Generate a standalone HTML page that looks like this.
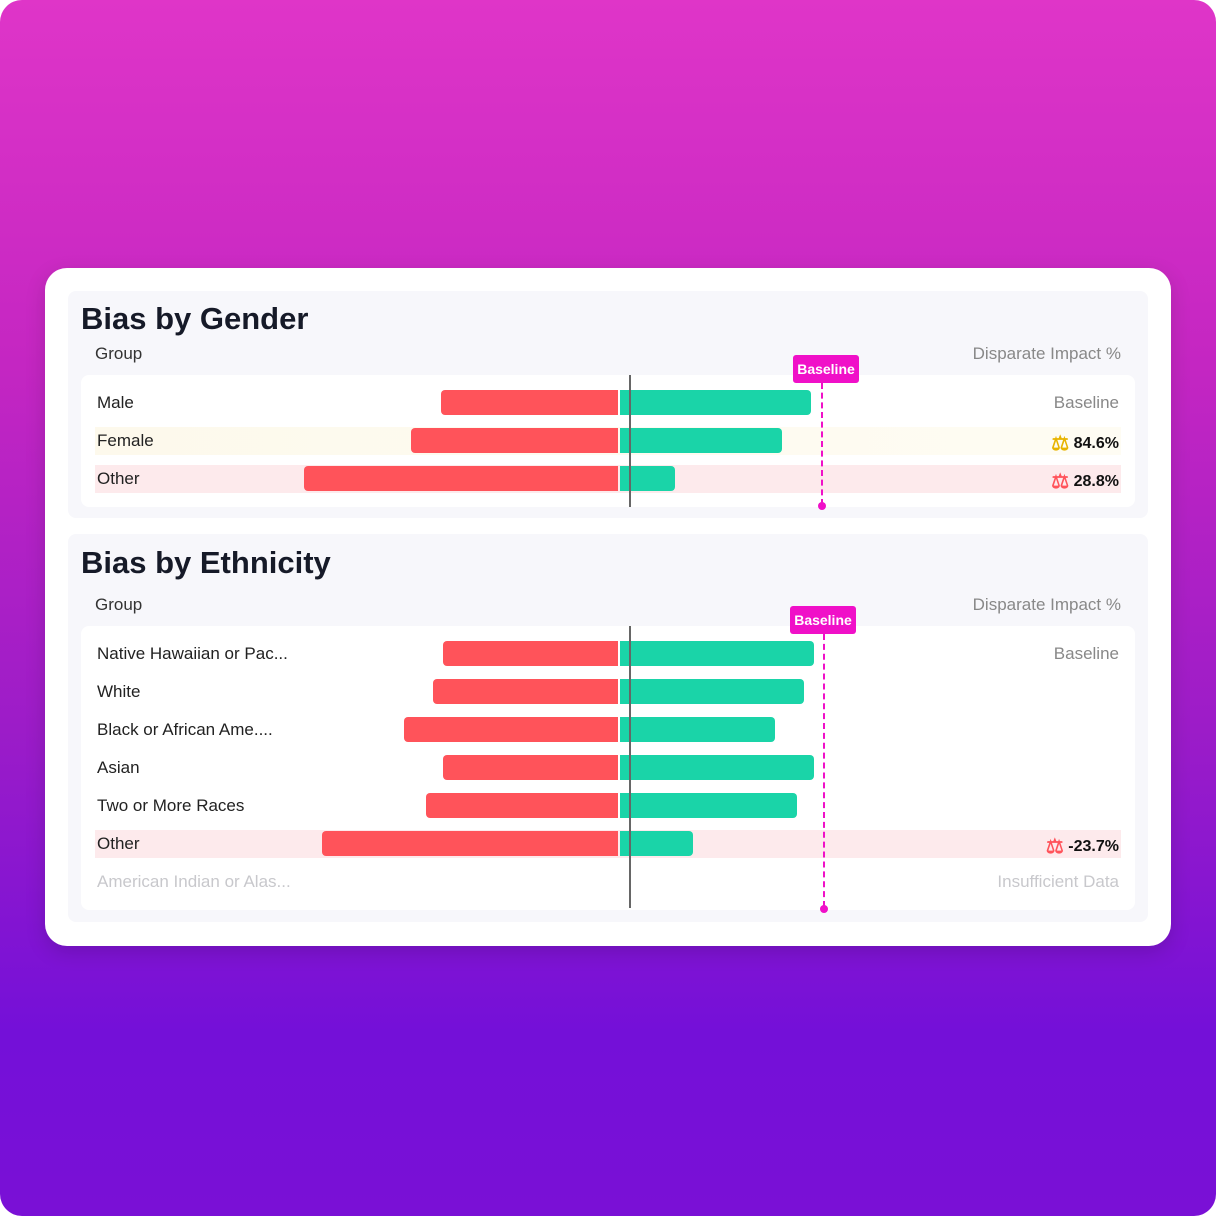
<!DOCTYPE html>
<html><head><style>
html{background:#fff}
body{margin:0;width:1216px;height:1216px;overflow:hidden;font-family:"Liberation Sans",sans-serif;border-radius:22px;
background:linear-gradient(180deg,#df35c8 0%,#c426c2 30%,#9c1cc8 60%,#7410d8 85%,#7a10d6 100%);position:relative}
.abs{position:absolute}
.card{left:45px;top:268px;width:1126px;height:678px;background:#fff;border-radius:22px;box-shadow:0 6px 20px rgba(0,0,0,.15)}
.panel{background:#f7f7fb;border-radius:8px}
.inner{background:#fff;border-radius:8px}
.title{font-weight:bold;font-size:31px;color:#161a28;letter-spacing:0px}
.lbl{font-size:17px;color:#222}
.hdr{font-size:17px;color:#333}
.muted{font-size:17px;color:#888}
.red{background:#ff535a;border-radius:4px 0 0 4px;height:25px}
.grn{background:#1ad4a8;border-radius:0 4px 4px 0;height:25px}
.axis{width:2px;background:#666}
.bl{border-left:2px dashed #f010c8;width:0}
.dot{width:8px;height:8px;border-radius:50%;background:#f010c8}
.tag{background:#f010c8;color:#fff;font-weight:bold;font-size:14px;border-radius:3px;text-align:center;line-height:28px}
.val{font-size:16px;font-weight:bold;color:#111;text-align:right}
.val span{font-size:20px;vertical-align:-2px}
</style></head><body>
<div class="abs card"></div>
<div class="abs panel" style="left:68px;top:291px;width:1080px;height:227px"></div>
<div class="abs title" style="left:81px;top:301px">Bias by Gender</div>
<div class="abs hdr" style="left:95px;top:344px">Group</div>
<div class="abs muted" style="right:95px;top:344px">Disparate Impact %</div>
<div class="abs inner" style="left:81px;top:375px;width:1054px;height:132px"></div>
<div class="abs" style="left:95px;top:427px;width:1026px;height:28px;background:linear-gradient(90deg,#fdf9ec,#fefcf3)"></div>
<div class="abs" style="left:95px;top:465px;width:1026px;height:28px;background:#fdeaec"></div>
<div class="abs lbl" style="left:97px;top:393px">Male</div>
<div class="abs lbl" style="left:97px;top:431px">Female</div>
<div class="abs lbl" style="left:97px;top:469px">Other</div>
<div class="abs red" style="left:441px;top:390px;width:177px"></div><div class="abs grn" style="left:620px;top:390px;width:191px"></div>
<div class="abs red" style="left:411px;top:428px;width:207px"></div><div class="abs grn" style="left:620px;top:428px;width:162px"></div>
<div class="abs red" style="left:304px;top:466px;width:314px"></div><div class="abs grn" style="left:620px;top:466px;width:55px"></div>
<div class="abs axis" style="left:629px;top:375px;height:132px"></div>
<div class="abs bl" style="left:821px;top:383px;height:122px"></div>
<div class="abs dot" style="left:818px;top:502px"></div>
<div class="abs tag" style="left:793px;top:355px;width:66px">Baseline</div>
<div class="abs muted" style="right:97px;top:393px">Baseline</div>
<div class="abs val" style="right:97px;top:431px"><span style="color:#e8b400">⚖</span> 84.6%</div>
<div class="abs val" style="right:97px;top:469px"><span style="color:#ff535a">⚖</span> 28.8%</div>

<div class="abs panel" style="left:68px;top:534px;width:1080px;height:388px"></div>
<div class="abs title" style="left:81px;top:545px">Bias by Ethnicity</div>
<div class="abs hdr" style="left:95px;top:595px">Group</div>
<div class="abs muted" style="right:95px;top:595px">Disparate Impact %</div>
<div class="abs inner" style="left:81px;top:626px;width:1054px;height:284px"></div>
<div class="abs" style="left:95px;top:830px;width:1026px;height:28px;background:#fdeaec"></div>
<div class="abs lbl" style="left:97px;top:644px">Native Hawaiian or Pac...</div>
<div class="abs lbl" style="left:97px;top:682px">White</div>
<div class="abs lbl" style="left:97px;top:720px">Black or African Ame....</div>
<div class="abs lbl" style="left:97px;top:758px">Asian</div>
<div class="abs lbl" style="left:97px;top:796px">Two or More Races</div>
<div class="abs lbl" style="left:97px;top:834px">Other</div>
<div class="abs lbl" style="left:97px;top:872px;color:#c8c8cc">American Indian or Alas...</div>
<div class="abs red" style="left:443px;top:641px;width:175px"></div><div class="abs grn" style="left:620px;top:641px;width:194px"></div>
<div class="abs red" style="left:433px;top:679px;width:185px"></div><div class="abs grn" style="left:620px;top:679px;width:184px"></div>
<div class="abs red" style="left:404px;top:717px;width:214px"></div><div class="abs grn" style="left:620px;top:717px;width:155px"></div>
<div class="abs red" style="left:443px;top:755px;width:175px"></div><div class="abs grn" style="left:620px;top:755px;width:194px"></div>
<div class="abs red" style="left:426px;top:793px;width:192px"></div><div class="abs grn" style="left:620px;top:793px;width:177px"></div>
<div class="abs red" style="left:322px;top:831px;width:296px"></div><div class="abs grn" style="left:620px;top:831px;width:73px"></div>
<div class="abs axis" style="left:629px;top:626px;height:282px"></div>
<div class="abs bl" style="left:823px;top:634px;height:273px"></div>
<div class="abs dot" style="left:820px;top:905px"></div>
<div class="abs tag" style="left:790px;top:606px;width:66px">Baseline</div>
<div class="abs muted" style="right:97px;top:644px">Baseline</div>
<div class="abs val" style="right:97px;top:834px"><span style="color:#ff535a">⚖</span> -23.7%</div>
<div class="abs muted" style="right:97px;top:872px;color:#c8c8cc">Insufficient Data</div>
</body></html>
